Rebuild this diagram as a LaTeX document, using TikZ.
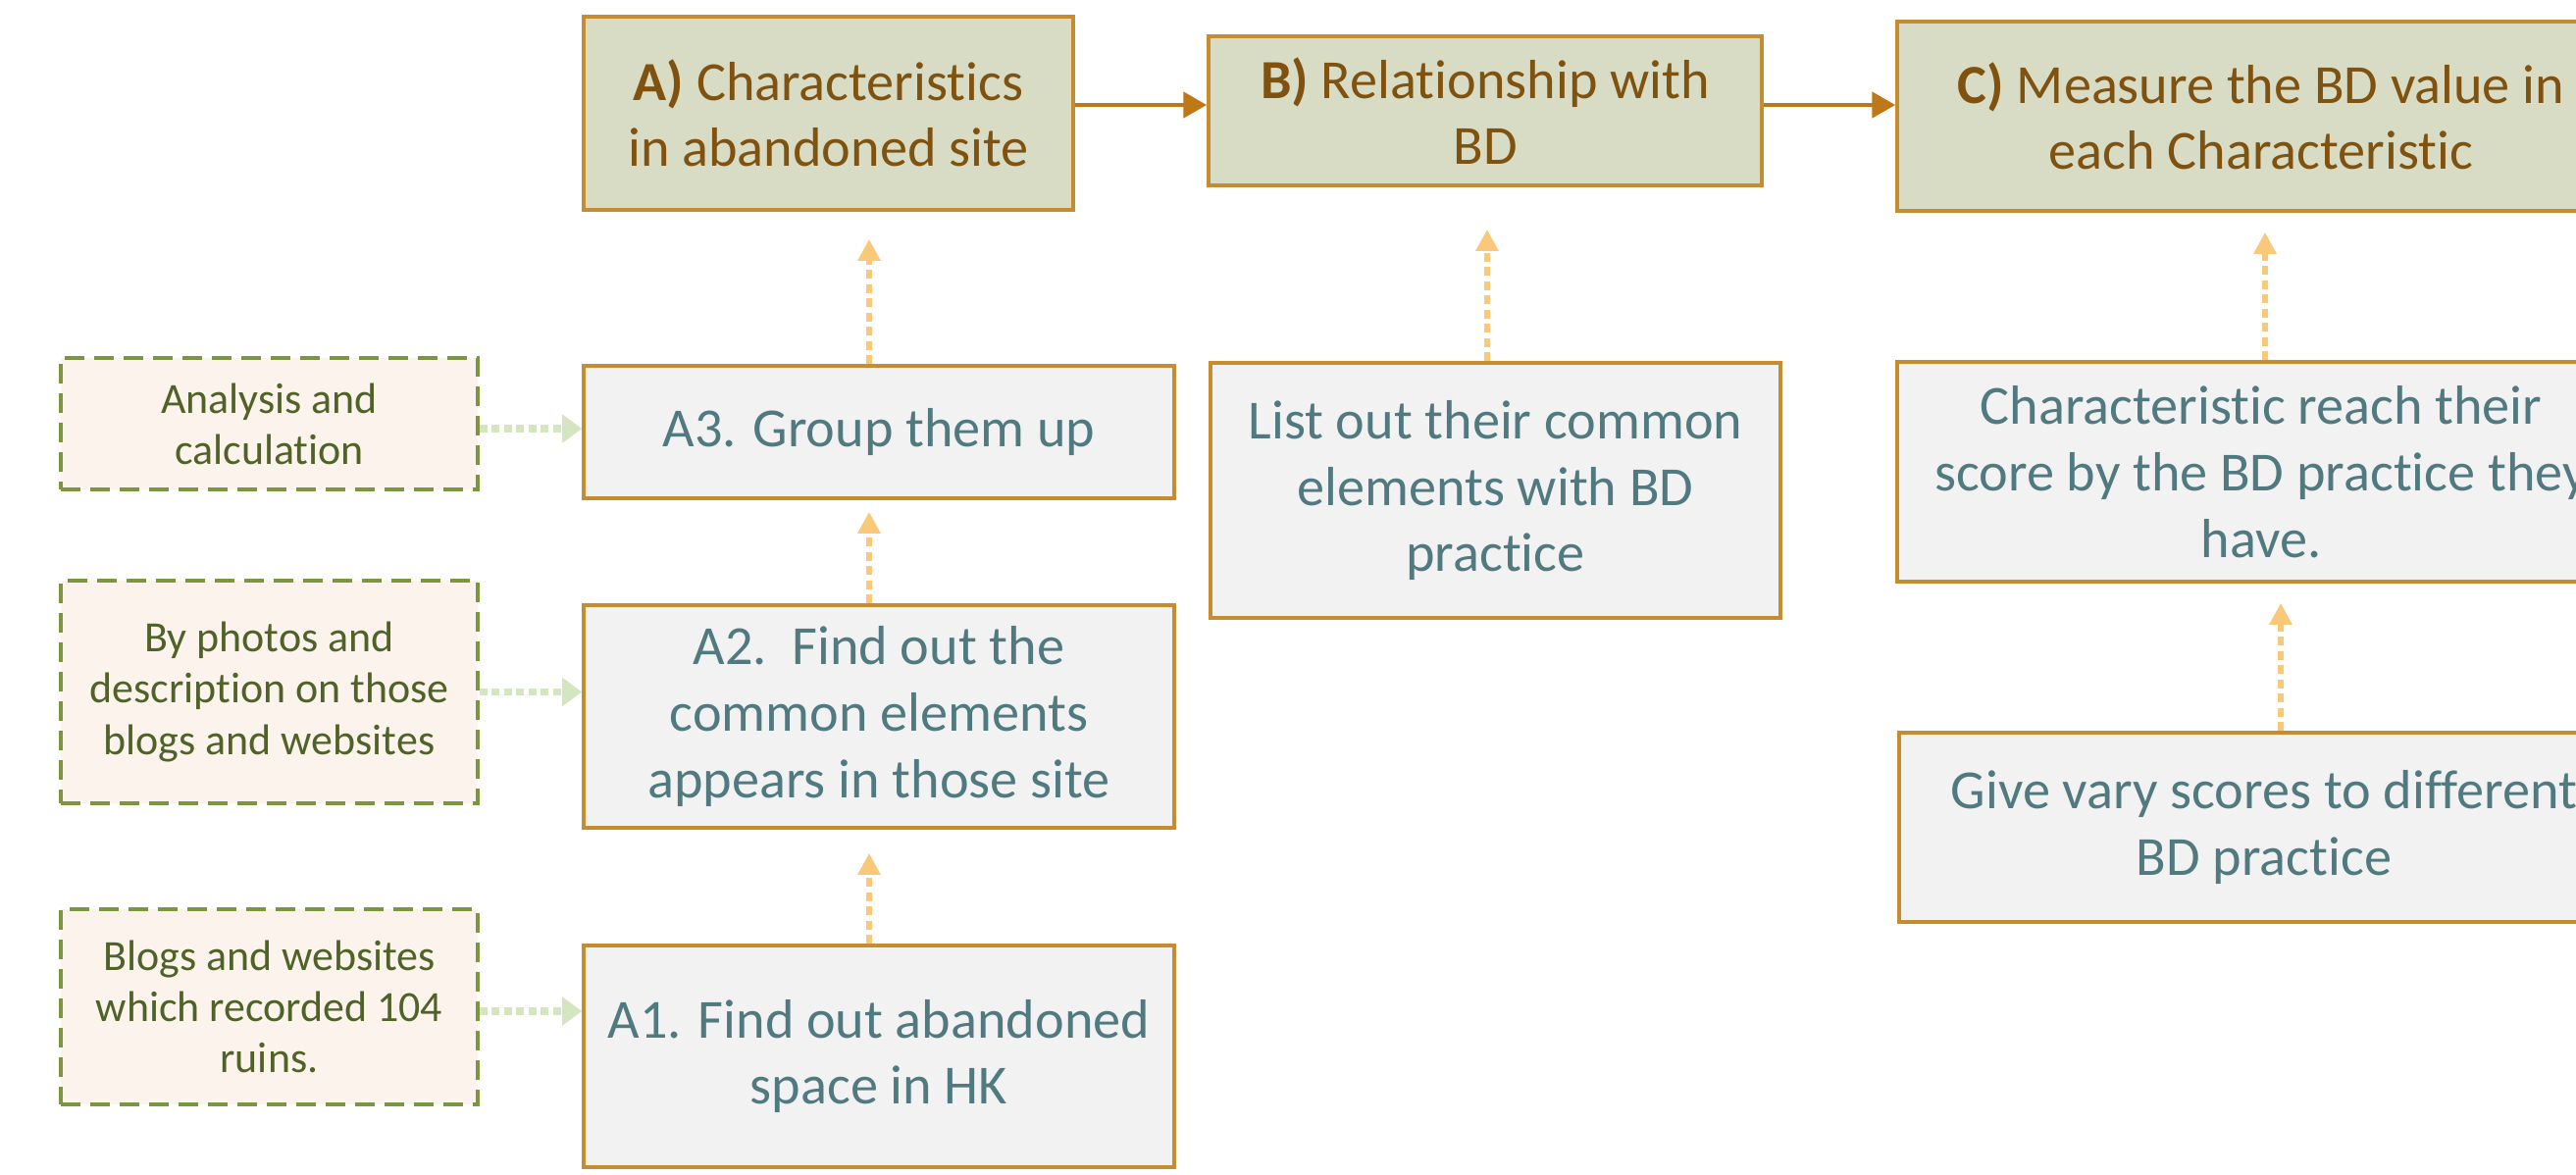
\documentclass[tikz,border=0pt]{standalone}
\usepackage{fontspec}
\setmainfont{Carlito}[Ligatures=CommonOff]
\usetikzlibrary{arrows.meta}

\definecolor{headfill}{HTML}{D8DCC4}
\definecolor{headtext}{HTML}{7F5210}
\definecolor{boxline}{HTML}{C68C30}
\definecolor{stepfill}{HTML}{F2F2F2}
\definecolor{steptext}{HTML}{517A80}
\definecolor{srcfill}{HTML}{FBF3EC}
\definecolor{srcline}{HTML}{7A963F}
\definecolor{srctext}{HTML}{4F6228}
\definecolor{flowline}{HTML}{BF7817}
\definecolor{feedline}{HTML}{F9C878}
\definecolor{hintline}{HTML}{D3E6C0}

\begin{document}
\begin{tikzpicture}[
    head/.style={draw=boxline, fill=headfill, text=headtext, line width=1pt, inner sep=0pt,
                 align=center, font=\fontsize{16}{19}\selectfont},
    stepbox/.style={draw=boxline, fill=stepfill, text=steptext, line width=1pt, inner sep=0pt,
                    align=center, font=\fontsize{16}{19.3}\selectfont},
    srcbox/.style={draw=srcline, fill=srcfill, text=srctext, line width=0.9pt, inner sep=0pt,
                   dash pattern=on 2mm off 1mm, align=center, font=\fontsize{12.5}{14.8}\selectfont},
    flow/.style={draw=flowline, line width=1.4pt, -{Triangle[length=2.4mm,width=2.6mm]}},
    feed/.style={draw=feedline, line width=1.7pt, dash pattern=on 0.9mm off 0.55mm,
                 -{Triangle[length=2.2mm,width=2.2mm,fill=feedline]}},
    hint/.style={draw=hintline, line width=2.1pt, dash pattern=on 0.8mm off 0.45mm,
                 -{Triangle[length=2mm,width=2.8mm,fill=hintline]}}
]
    \useasboundingbox (0, 0) rectangle (26.26, -11.97);

    % top row
    \node[head, minimum width=4.99cm, minimum height=1.97cm] (charA) at (8.445, -1.155)
        {\textbf{A)} Characteristics\\in abandoned site};
    \node[head, minimum width=5.64cm, minimum height=1.52cm] (relB) at (15.14, -1.13)
        {\textbf{B)} Relationship with\\BD};
    \node[head, minimum width=7.42cm, minimum height=1.93cm] (measC) at (23.05, -1.185)
        {\textbf{C)} Measure the BD value in\\each Characteristic};

    % steps
    \node[stepbox, minimum width=6.02cm, minimum height=1.35cm] (groupA) at (8.96, -4.405)
        {A3. Group them up};
    \node[stepbox, minimum width=6.02cm, minimum height=2.27cm] (commonA) at (8.96, -7.305)
        {A2.\ \ Find out the\\common elements\\appears in those site};
    \node[stepbox, minimum width=6.02cm, minimum height=2.26cm] (findA) at (8.96, -10.77)
        {A1. Find out abandoned\\space in HK};
    \node[stepbox, minimum width=5.81cm, minimum height=2.6cm] (listB) at (15.245, -5.0)
        {List out their common\\elements with BD\\practice};
    \node[stepbox, minimum width=7.42cm, minimum height=2.24cm] (reachC) at (23.05, -4.81)
        {Characteristic reach their\\score by the BD practice they\\have.};
    \node[stepbox, minimum width=7.44cm, minimum height=1.93cm] (scoreC) at (23.08, -8.435)
        {Give vary scores to different\\BD practice};

    % sources
    \node[srcbox, minimum width=4.25cm, minimum height=1.34cm] (calc) at (2.745, -4.32)
        {Analysis and\\calculation};
    \node[srcbox, minimum width=4.25cm, minimum height=2.27cm] (photos) at (2.745, -7.055)
        {By photos and\\description on those\\blogs and websites};
    \node[srcbox, minimum width=4.25cm, minimum height=1.99cm] (blogs) at (2.745, -10.265)
        {Blogs and websites\\which recorded 104\\ruins.};

    \draw[flow] ([yshift=0.85mm]charA.east) -- ([yshift=0.85mm]charA.east -| relB.west);  % A -- B
    \draw[flow] ([yshift=0.6mm]relB.east) -- ([yshift=0.6mm]relB.east -| measC.west);     % B -- C

    \draw[feed, shorten >=2.8mm] ([xshift=-1mm]groupA.north) -- ([xshift=-1mm]groupA.north |- charA.south);  % A3 -- A
    \draw[feed, shorten >=1.2mm] ([xshift=-1mm]commonA.north) -- ([xshift=-1mm]commonA.north |- groupA.south); % A2 -- A3
    \draw[feed, shorten >=2.4mm] ([xshift=-1mm]findA.north) -- ([xshift=-1mm]findA.north |- commonA.south);   % A1 -- A2
    \draw[feed, shorten >=4.3mm] ([xshift=-0.85mm]listB.north) -- ([xshift=-0.85mm]listB.north |- relB.south); % list -- B
    \draw[feed, shorten >=2mm] ([xshift=0.4mm]reachC.north) -- ([xshift=0.4mm]reachC.north |- measC.south);  % reach -- C
    \draw[feed, shorten >=2mm] ([xshift=1.7mm]scoreC.north) -- ([xshift=1.7mm]scoreC.north |- reachC.south); % score -- reach

    \draw[hint] ([yshift=-0.5mm]calc.east) -- ([yshift=-0.5mm]calc.east -| groupA.west);  % calc -- A3
    \draw[hint] (photos.east) -- (photos.east -| commonA.west);                          % photos -- A2
    \draw[hint] ([yshift=-0.45mm]blogs.east) -- ([yshift=-0.45mm]blogs.east -| findA.west); % blogs -- A1
\end{tikzpicture}
\end{document}
